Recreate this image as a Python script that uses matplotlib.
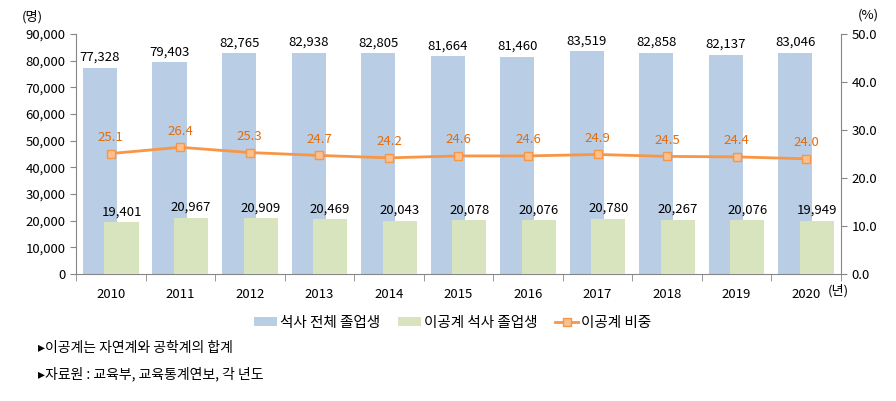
import numpy as np
import matplotlib.pyplot as plt

plt.rcParams['font.family'] = ['Noto Sans CJK KR', 'DejaVu Sans']

years = ["2010", "2011", "2012", "2013", "2014", "2015", "2016", "2017", "2018", "2019", "2020"]
total = [77328, 79403, 82765, 82938, 82805, 81664, 81460, 83519, 82858, 82137, 83046]
stem = [19401, 20967, 20909, 20469, 20043, 20078, 20076, 20780, 20267, 20076, 19949]
share = [25.1, 26.4, 25.3, 24.7, 24.2, 24.6, 24.6, 24.9, 24.5, 24.4, 24.0]

c_blue = "#B9CDE5"
c_green = "#D7E4BD"
c_orange = "#F79646"
c_label = "#E46C0A"
c_axis = "#868686"

fig = plt.figure(figsize=(8.96, 4.01), dpi=100)
ax = fig.add_axes([0.0848, 0.3167, 0.8538, 0.5985])
ax2 = ax.twinx()

x = np.arange(len(years))
w = 0.49
ax.bar(x - 0.155, total, width=w, color=c_blue, label="석사 전체 졸업생", zorder=2)
ax.bar(x + 0.155, stem, width=w, color=c_green, label="이공계 석사 졸업생", zorder=3)

for xi, v in zip(x, total):
    ax.text(xi - 0.155, v + 1500, f"{v:,}", ha="center", va="bottom", fontsize=9.5, color="black")
for xi, v in zip(x, stem):
    ax.text(xi + 0.155, v + 1500, f"{v:,}", ha="center", va="bottom", fontsize=9.5, color="black")

ax2.plot(x, share, color=c_orange, lw=2, marker="s", ms=6, mfc="#FAC090", mec=c_orange,
         mew=1, label="이공계 비중", zorder=5)
for xi, v in zip(x, share):
    ax2.text(xi, v + 2.0, f"{v:.1f}", ha="center", va="bottom", fontsize=9.5, color=c_label)

ax.set_xlim(-0.5, len(years) - 0.5)
ax.set_ylim(0, 90000)
ax2.set_ylim(0, 50)
ax.set_yticks(np.arange(0, 90001, 10000))
ax.set_yticklabels([f"{v:,}" for v in range(0, 90001, 10000)], fontsize=9.5)
ax2.set_yticks(np.arange(0, 50.1, 10))
ax2.set_yticklabels([f"{v:.1f}" for v in range(0, 51, 10)], fontsize=9.5)

ax.set_xticks(x)
ax.set_xticklabels(years, fontsize=9.5)
ax.set_xticks(np.arange(-0.5, len(years), 1), minor=True)
ax.tick_params(axis="x", which="major", length=0, pad=10)
ax.tick_params(axis="x", which="minor", length=5, color=c_axis)
ax.tick_params(axis="y", length=4, color=c_axis)
ax2.tick_params(axis="y", length=4, color=c_axis)

for a in (ax, ax2):
    a.spines["top"].set_visible(False)
    for s in ("left", "right", "bottom"):
        a.spines[s].set_color(c_axis)
ax.spines["right"].set_visible(False)
ax2.spines["left"].set_visible(False)
ax2.spines["bottom"].set_visible(False)

fig.text(0.024, 0.958, "(명)", fontsize=9.5, ha="left", va="center")
fig.text(0.969, 0.963, "(%)", fontsize=9.5, ha="center", va="center")
fig.text(0.924, 0.274, "(년)", fontsize=9.5, ha="left", va="center")

h1, l1 = ax.get_legend_handles_labels()
h2, l2 = ax2.get_legend_handles_labels()
fig.legend(h1 + h2, l1 + l2, loc="center", bbox_to_anchor=(0.505, 0.195), ncol=3,
           frameon=False, fontsize=10.5, handlelength=1.6, handleheight=0.6,
           handletextpad=0.2, columnspacing=1.2)

fig.text(0.042, 0.133, "▸이공계는 자연계와 공학계의 합계", fontsize=10, ha="left", va="center")
fig.text(0.042, 0.068, "▸자료원 : 교육부, 교육통계연보, 각 년도", fontsize=10, ha="left", va="center")

fig.savefig("out.png", dpi=100)
